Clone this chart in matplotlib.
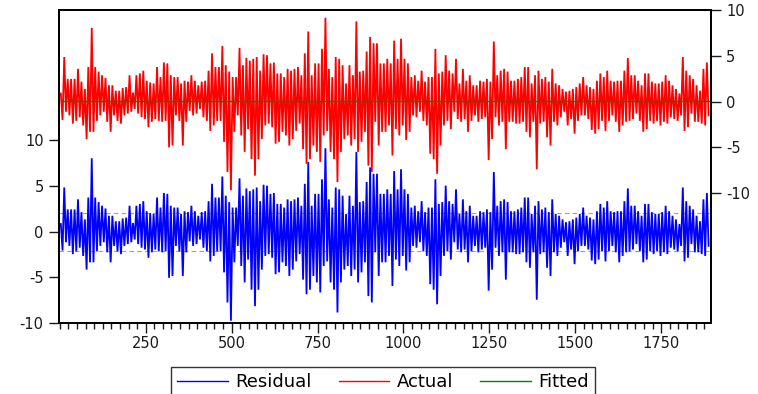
import matplotlib
matplotlib.use('Agg')
import matplotlib.pyplot as plt
import numpy as np
from matplotlib.ticker import FixedLocator, MultipleLocator
from matplotlib.lines import Line2D

plt.rcParams['font.family'] = ['DejaVu Sans']
plt.rcParams['axes.unicode_minus'] = False

bin_width = 10
actual_hi = [
    0.9, 4.9, 2.5, 2.5, 2.5, 3.6, 2.2, 1.4, 3.8, 8.1,
    3.8, 3.3, 2.9, 2.6, 1.8, 1.8, 1.2, 1.2, 1.5, 1.6,
    2.9, 1.0, 2.9, 3.1, 3.4, 2.3, 2.1, 2.0, 3.8, 2.7,
    4.3, 4.2, 2.9, 2.7, 2.7, 2.0, 2.3, 2.2, 2.9, 2.3,
    1.8, 2.2, 2.3, 3.4, 5.3, 3.8, 3.8, 6.1, 4.0, 3.3,
    2.7, 2.7, 5.9, 4.0, 4.8, 4.5, 4.7, 4.9, 3.4, 5.2,
    5.1, 4.2, 4.3, 3.1, 3.1, 2.7, 3.6, 3.4, 3.6, 3.8,
    2.9, 5.3, 7.7, 2.9, 4.2, 4.2, 5.8, 9.2, 3.6, 2.7,
    4.9, 4.7, 4.0, 2.0, 4.0, 2.9, 8.8, 3.3, 3.4, 5.5,
    7.1, 6.4, 6.4, 4.2, 4.2, 4.7, 4.2, 6.7, 4.7, 6.9,
    4.7, 4.2, 2.7, 2.9, 2.3, 3.4, 2.2, 2.7, 2.7, 5.8,
    3.1, 3.3, 5.1, 3.4, 3.1, 4.7, 2.0, 3.6, 2.3, 2.9,
    1.8, 1.8, 2.3, 2.2, 2.5, 2.2, 6.6, 2.9, 3.4, 3.6,
    3.3, 2.3, 2.3, 2.5, 2.7, 3.8, 3.8, 2.0, 2.9, 3.4,
    2.5, 2.7, 2.2, 3.6, 2.0, 1.8, 1.4, 1.1, 1.2, 1.4,
    1.6, 2.0, 2.7, 1.8, 1.6, 1.4, 2.3, 3.1, 2.7, 3.4,
    2.3, 2.2, 2.3, 2.3, 3.4, 4.8, 2.9, 2.9, 2.3, 1.8,
    3.1, 3.1, 2.2, 2.0, 2.0, 2.2, 2.9, 2.3, 1.8, 1.4,
    0.9, 4.9, 3.4, 2.9, 2.5, 1.8, 1.2, 3.6, 4.3,
]
actual_lo = [
    -2.0, -1.1, -1.5, -2.4, -2.1, -1.7, -2.6, -4.1, -3.3, -3.3,
    -2.1, -1.5, -1.1, -2.2, -3.3, -1.5, -2.1, -2.4, -1.5, -1.3,
    -1.1, -0.8, -1.3, -1.7, -1.9, -2.8, -2.2, -1.9, -2.1, -2.2,
    -2.1, -5.0, -4.8, -1.5, -2.1, -4.8, -2.2, -1.0, -1.5, -1.3,
    -0.8, -1.7, -2.1, -3.2, -2.6, -2.1, -2.1, -4.4, -7.7, -9.7,
    -3.3, -1.5, -3.7, -5.5, -3.0, -6.3, -8.1, -6.3, -4.1, -2.6,
    -2.4, -2.8, -4.6, -4.4, -3.3, -3.7, -4.8, -4.1, -3.2, -2.4,
    -5.2, -6.8, -6.3, -4.8, -5.5, -6.6, -3.7, -3.2, -5.5, -6.3,
    -8.8, -5.5, -4.1, -3.7, -4.8, -4.1, -5.5, -4.4, -3.3, -7.0,
    -7.7, -2.2, -4.8, -3.3, -3.3, -2.6, -5.9, -3.0, -3.7, -2.6,
    -4.2, -3.3, -1.5, -1.7, -1.1, -2.1, -2.6, -5.7, -6.3, -7.9,
    -4.8, -2.6, -2.1, -3.0, -1.1, -1.9, -2.2, -1.9, -3.3, -2.1,
    -1.5, -2.2, -1.9, -1.7, -6.4, -4.1, -1.7, -2.6, -2.2, -5.2,
    -2.2, -2.2, -2.4, -2.4, -2.2, -3.3, -3.9, -2.2, -7.4, -2.4,
    -2.2, -3.9, -4.8, -2.2, -2.6, -1.7, -1.1, -2.6, -1.9, -3.5,
    -2.1, -1.5, -1.5, -1.9, -3.1, -3.5, -3.0, -2.1, -3.2, -2.1,
    -1.5, -2.2, -3.3, -2.6, -2.2, -2.1, -1.9, -1.3, -2.1, -3.3,
    -3.0, -2.1, -2.4, -2.1, -2.6, -2.2, -2.4, -1.7, -1.9, -2.1,
    -1.5, -3.2, -2.8, -1.3, -2.2, -2.2, -2.4, -2.6, -1.5,
]
fitted_level = 0.05          # fitted line (flat, ~0)
resid_sd = 2.07              # residual +/- 1 s.e. band
x_major = [250, 500, 750, 1000, 1250, 1500, 1750]
left_ticks = [-10, -5, 0, 5, 10]
right_ticks = [-10, -5, 0, 5, 10]
legend_labels = ['Residual', 'Actual', 'Fitted']

# ---- build series (interleave the bin extremes) ----
nb = len(actual_hi)
idx = np.arange(nb)
obs = np.empty(2 * nb)
obs[0::2] = bin_width * idx + 3
obs[1::2] = bin_width * idx + 8
actual = np.empty(2 * nb)
actual[0::2] = actual_hi
actual[1::2] = actual_lo
fitted = np.full_like(actual, fitted_level)
residual = actual - fitted

# ---- figure ----
W, H = 758, 394
fig = plt.figure(figsize=(W / 100, H / 100), dpi=100)
L, R, T, B = 59, 711, 10, 323
ax = fig.add_axes([L / W, 1 - B / H, (R - L) / W, (B - T) / H])
ax2 = ax.twinx()

ax.set_xlim(-2.3, 1895)
ax.set_ylim(-10.0, 24.3)
ax2.set_ylim(-24.25, 10.05)

ax.plot(obs, residual, color='#0000ff', lw=1.3, zorder=3, solid_joinstyle='miter')
ax.axhline(resid_sd, color='#a0a0a0', lw=0.8, ls=(0, (4, 3)), zorder=1)
ax.axhline(-resid_sd, color='#a0a0a0', lw=0.8, ls=(0, (4, 3)), zorder=1)
ax2.plot(obs, actual, color='#ff0000', lw=1.3, zorder=3, solid_joinstyle='miter')
ax2.plot(obs, fitted, color='#008000', lw=1.0, zorder=4)

txt = '#1a1a1a'
ax.xaxis.set_major_locator(FixedLocator(x_major))
ax.xaxis.set_minor_locator(MultipleLocator(25))
ax.yaxis.set_major_locator(FixedLocator(left_ticks))
ax.yaxis.set_minor_locator(FixedLocator([]))
ax2.yaxis.set_major_locator(FixedLocator(right_ticks))
ax2.yaxis.set_minor_locator(FixedLocator([]))

fs = 10.5
ax.tick_params(axis='x', which='major', direction='out', length=7, width=1.0,
               labelsize=fs, pad=2, colors=txt)
ax.tick_params(axis='x', which='minor', direction='out', length=4, width=1.0, colors=txt)
ax.tick_params(axis='y', which='major', direction='out', length=7, width=1.0,
               labelsize=fs, pad=4, colors=txt)
ax2.tick_params(axis='y', which='major', direction='out', length=7, width=1.0,
                labelsize=fs, pad=4, colors=txt)

for a in (ax, ax2):
    for s in a.spines.values():
        s.set_linewidth(1.4)
        s.set_color('#000000')

handles = [Line2D([], [], color='#0000ff', lw=1.0),
           Line2D([], [], color='#ff0000', lw=1.0),
           Line2D([], [], color='#008000', lw=1.0)]
leg = fig.legend(handles, legend_labels, loc='center', bbox_to_anchor=(383 / W, 1 - 382 / H),
                 ncol=3, fontsize=13, frameon=True, fancybox=False, shadow=False,
                 handlelength=2.8, handletextpad=0.4, columnspacing=1.5,
                 borderpad=0.35, borderaxespad=0)
leg.get_frame().set_edgecolor('#000000')
leg.get_frame().set_linewidth(1.0)

fig.savefig('out.png', dpi=100)
